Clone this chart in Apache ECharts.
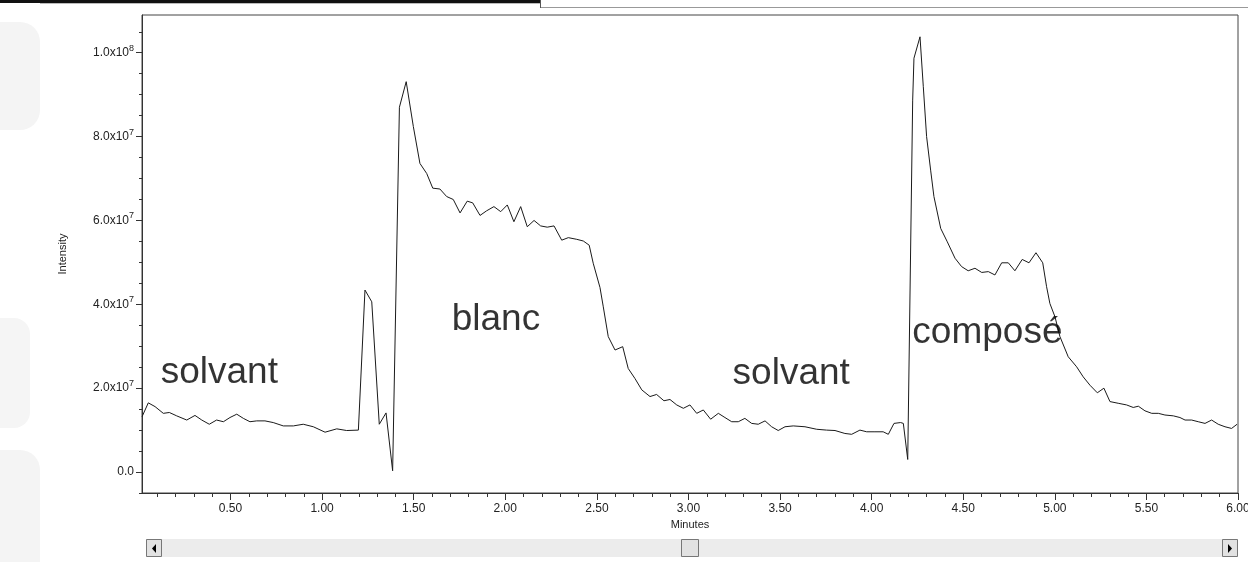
<!DOCTYPE html>
<html><head><meta charset="utf-8">
<script src="https://cdn.jsdelivr.net/npm/echarts@6/dist/echarts.min.js"></script>
<style>html,body{margin:0;padding:0;background:#fff}#c{width:1248px;height:562px}</style>
</head><body><div id="c"></div>
<script>
// Retention time (minutes)
const times = [
0.017,0.051,0.088,0.133,0.166,0.206,0.261,0.306,0.343,0.384,
0.424,0.461,0.497,0.534,0.570,0.606,0.643,0.688,0.733,0.788,
0.843,0.897,0.952,1.016,1.080,1.134,1.198,1.234,1.271,1.312,
1.349,1.385,1.422,1.459,1.498,1.534,1.571,1.604,1.643,1.680,
1.716,1.753,1.792,1.822,1.862,1.898,1.938,1.975,2.011,2.047,
2.084,2.120,2.157,2.193,2.229,2.266,2.308,2.344,2.390,2.426,
2.458,2.480,2.517,2.535,2.562,2.599,2.641,2.671,2.708,2.745,
2.790,2.826,2.866,2.899,2.936,2.972,3.008,3.045,3.081,3.121,
3.163,3.199,3.236,3.272,3.308,3.345,3.381,3.418,3.454,3.490,
3.527,3.572,3.636,3.700,3.754,3.800,3.854,3.891,3.936,3.973,
4.018,4.063,4.091,4.122,4.158,4.173,4.197,4.224,4.231,4.264,
4.282,4.300,4.322,4.340,4.377,4.413,4.455,4.491,4.527,4.564,
4.601,4.637,4.673,4.710,4.746,4.782,4.822,4.859,4.897,4.934,
4.955,4.973,5.001,5.028,5.073,5.119,5.155,5.192,5.232,5.268,
5.301,5.346,5.392,5.428,5.456,5.492,5.529,5.565,5.601,5.647,
5.683,5.711,5.747,5.783,5.820,5.856,5.892,5.929,5.965,5.995];
// Intensity, in units of 1e6
const intensityE6 = [
13.2,16.5,15.6,14.0,14.2,13.4,12.4,13.5,12.4,11.4,
12.4,12.0,13.0,13.8,12.8,12.0,12.2,12.2,11.8,11.0,
11.0,11.4,10.8,9.5,10.3,9.9,10.0,43.4,40.6,11.4,
14.1,0.3,87.0,93.1,82.4,73.6,71.2,67.7,67.5,65.7,
65.0,61.8,64.6,64.2,61.2,62.3,63.3,62.1,63.7,59.7,
63.3,58.5,60.0,58.7,58.4,58.7,55.3,55.9,55.5,55.1,
54.1,49.8,44.0,39.4,32.3,29.1,29.9,24.7,22.3,19.6,
18.0,18.5,17.0,17.3,16.0,15.2,16.0,14.0,14.8,12.6,
14.0,13.0,12.0,12.0,12.8,11.6,11.4,12.2,10.8,9.9,
10.8,11.0,10.8,10.2,10.0,9.9,9.2,9.0,10.0,9.6,
9.6,9.6,9.0,11.6,11.8,11.6,3.0,88.7,98.7,103.8,
91.9,80.0,72.0,65.7,58.1,54.9,51.0,49.0,48.0,48.6,
47.6,47.8,47.0,49.9,49.9,48.0,50.7,49.9,52.3,49.9,
44.2,40.2,37.0,32.3,27.5,25.1,22.7,20.7,18.9,20.0,
16.8,16.4,16.0,15.4,15.7,14.6,14.0,14.0,13.6,13.4,
13.0,12.4,12.4,12.0,11.6,12.4,11.4,10.8,10.4,11.4];

const xMajorTicks = [0.5,1.0,1.5,2.0,2.5,3.0,3.5,4.0,4.5,5.0,5.5,6.0];
const xMinorTicks = [0.1,0.2,0.3,0.4,0.6,0.7,0.8,0.9,1.1,1.2,1.3,1.4,1.6,1.7,1.8,1.9,2.1,2.2,2.3,2.4,
  2.6,2.7,2.8,2.9,3.1,3.2,3.3,3.4,3.6,3.7,3.8,3.9,4.1,4.2,4.3,4.4,4.6,4.7,4.8,4.9,5.1,5.2,5.3,5.4,5.6,5.7,5.8,5.9];
const yMajorTicks = [0,20,40,60,80,100];
const yMinorTicks = [-5,5,10,15,25,30,35,45,50,55,65,70,75,85,90,95,105];

const annotTexts = ['solvant','blanc','solvant','composé'];
const annotTimes = [0.439,1.949,3.561,4.632];
const annotValues = [23.6,36.3,23.4,33.2];

const FONT = 'Liberation Sans, Arial, sans-serif';
const AX = '#333';

function yLabel(v){
  if (Math.abs(v) < 1e-9) return '0.0';
  const val = v*1e6;
  const e = Math.floor(Math.log10(val)+1e-9);
  const m = (val/Math.pow(10,e)).toFixed(1);
  return m + 'x10{sup|' + e + '}';
}

const chart = echarts.init(document.getElementById('c'), null, {renderer:'canvas'});
const lineData = times.map((t,i)=>[t, intensityE6[i]]);
const annotData = annotTexts.map((s,i)=>[annotTimes[i], annotValues[i], s]);

chart.setOption({
  animation:false,
  backgroundColor:'#fff',
  grid:{left:142,right:10,top:15,bottom:69,show:true,borderColor:'#444',borderWidth:1,outerBoundsMode:'none'},
  xAxis:[{
    type:'value',min:0.0167,max:6.0,position:'bottom',
    axisLine:{show:true,onZero:false,lineStyle:{color:AX,width:1}},
    axisTick:{show:true,customValues:xMajorTicks,length:7,lineStyle:{color:AX}},
    axisLabel:{customValues:xMajorTicks,formatter:v=>v.toFixed(2),margin:10,fontSize:12,color:'#222',fontFamily:FONT},
    splitLine:{show:false},
    name:'Minutes',nameLocation:'middle',nameGap:25,nameTextStyle:{fontSize:11,color:'#222',fontFamily:FONT}
  },{
    type:'value',min:0.0167,max:6.0,position:'bottom',
    axisLine:{show:false,onZero:false},
    axisTick:{show:true,customValues:xMinorTicks,length:4,lineStyle:{color:AX}},
    axisLabel:{show:false},splitLine:{show:false}
  }],
  yAxis:[{
    type:'value',min:-5,max:109,position:'left',
    axisLine:{show:true,onZero:false,lineStyle:{color:AX,width:1}},
    axisTick:{show:true,customValues:yMajorTicks,length:6,lineStyle:{color:AX}},
    axisLabel:{customValues:yMajorTicks,formatter:yLabel,margin:8,fontSize:12,color:'#222',fontFamily:FONT,
      rich:{sup:{fontSize:9,color:'#222',fontFamily:FONT,padding:[0,0,9,0]}}},
    splitLine:{show:false},
    name:'Intensity',nameLocation:'middle',nameGap:74,nameTextStyle:{fontSize:11,color:'#222',fontFamily:FONT}
  },{
    type:'value',min:-5,max:109,position:'left',
    axisLine:{show:false,onZero:false},
    axisTick:{show:true,customValues:yMinorTicks,length:3,lineStyle:{color:AX}},
    axisLabel:{show:false},splitLine:{show:false}
  }],
  series:[{
    type:'line',data:lineData,xAxisIndex:0,yAxisIndex:0,showSymbol:false,symbol:'none',
    lineStyle:{color:'#1a1a1a',width:1},silent:true
  },{
    type:'scatter',data:annotData,xAxisIndex:0,yAxisIndex:0,symbolSize:0,silent:true,z:5,
    label:{show:true,position:'inside',formatter:p=>p.data[2],fontSize:37,color:'#000',fontFamily:FONT}
  }],
  graphic:[
    {type:'rect',shape:{x:0,y:0,width:541,height:3},style:{fill:'#111'}},
    {type:'rect',shape:{x:40,y:3,width:501,height:1},style:{fill:'#bbb'}},
    {type:'rect',shape:{x:540,y:0,width:1,height:8},style:{fill:'#555'}},
    {type:'rect',shape:{x:541,y:7,width:707,height:1},style:{fill:'#999'}},
    {type:'rect',shape:{x:0,y:22,width:40,height:108,r:[0,20,20,0]},style:{fill:'#f4f4f4'}},
    {type:'rect',shape:{x:0,y:318,width:30,height:110,r:[0,16,16,0]},style:{fill:'#f5f5f5'}},
    {type:'rect',shape:{x:0,y:450,width:40,height:112,r:[0,20,0,0]},style:{fill:'#f4f4f4'}},
    {type:'rect',shape:{x:146,y:539,width:1092,height:18},style:{fill:'#ececec'}},
    {type:'rect',shape:{x:146.5,y:539.5,width:15,height:17},style:{fill:'#e2e2e2',stroke:'#777',lineWidth:1}},
    {type:'polygon',shape:{points:[[156,544],[156,553],[152,548.5]]},style:{fill:'#000'}},
    {type:'rect',shape:{x:1222.5,y:539.5,width:15,height:17},style:{fill:'#e2e2e2',stroke:'#777',lineWidth:1}},
    {type:'polygon',shape:{points:[[1228,544],[1228,553],[1232,548.5]]},style:{fill:'#000'}},
    {type:'rect',shape:{x:681.5,y:539.5,width:17,height:17},style:{fill:'#e2e2e2',stroke:'#777',lineWidth:1}}
  ]
});
</script></body></html>
